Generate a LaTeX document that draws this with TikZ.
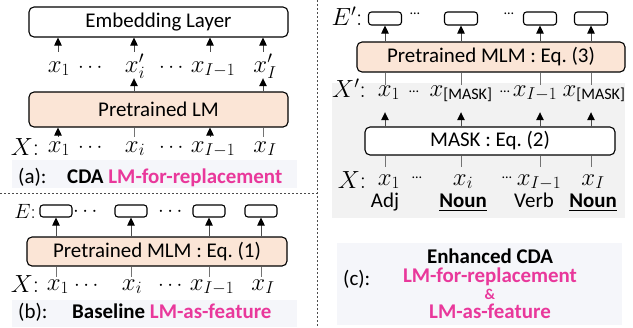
\documentclass[tikz,border=0pt]{standalone}
\usepackage{amsmath}
\usepackage{fontspec}
\setmainfont{Carlito}
\usetikzlibrary{arrows.meta}
\definecolor{peach}{RGB}{251,229,214}
\definecolor{pinkc}{RGB}{233,56,155}
\definecolor{lblbg}{RGB}{245,246,250}
\definecolor{graybg}{RGB}{242,242,242}
\begin{document}
\begin{tikzpicture}[x=1bp,y=-1bp,
  f21/.style={font=\fontsize{21}{25}\selectfont},
  box/.style={draw=black, line width=1.1bp, rounded corners=5bp, inner sep=0pt, f21},
  lmbox/.style={box, fill=peach},
  wbox/.style={box, fill=white},
  ebox/.style={draw=black, line width=1.1bp, rounded corners=3bp, inner sep=0pt, minimum width=32bp, minimum height=12bp, fill=white},
  arr/.style={draw=black!70, line width=0.9bp, -{Triangle[width=7.5bp,length=8bp,black]}},
  ln/.style={draw=black!55, line width=0.9bp},
  lab/.style={inner sep=0pt, anchor=base, font=\fontsize{23}{27}\selectfont},
  mdots/.style={inner sep=0pt, anchor=base, font=\fontsize{20}{24}\selectfont},
  big/.style={inner sep=0pt, anchor=base, font=\fontsize{25}{29}\selectfont},
  tag/.style={inner sep=0pt, anchor=base west, f21},
  ctag/.style={inner sep=0pt, anchor=base, f21},
  sdots/.style={inner sep=0pt, font=\fontsize{14}{16}\selectfont},
  sep/.style={draw=black!70, line width=0.8bp, dash pattern=on 2bp off 2bp}
]
\useasboundingbox (0,0) rectangle (633,327);

% separators
\draw[sep] (317,0) -- (317,327);
\draw[sep] (0,193) -- (317,193);

% ---------------- panel (a)
\node[wbox, minimum width=259bp, minimum height=30bp] (emb) at (158.5,22) {Embedding Layer};
\node[lmbox, minimum width=259bp, minimum height=35bp] (plm) at (158.5,109.5) {Pretrained LM};

\begin{scope}[every node/.append style={text height=20bp, text depth=6bp}]
\node[lab] (a1) at (59,72) {$x_1$};
\node[mdots] (ad1) at (92,72) {$\cdots$};
\node[lab] (ai) at (135,72) {$x_i'$};
\node[mdots] (ad2) at (173,72) {$\cdots$};
\node[lab] (aI1) at (213,72) {$x_{I-1}$};
\node[lab] (aI) at (265,72) {$x_I'$};
\end{scope}
\draw[arr] ([xshift=-1bp]a1.north) -- ([xshift=-1bp]a1.north |- emb.south);
\draw[arr] ([xshift=-1bp]ai.north) -- ([xshift=-1bp]ai.north |- emb.south);
\draw[arr] ([xshift=-3bp]aI1.north) -- ([xshift=-3bp]aI1.north |- emb.south);
\draw[arr] ([xshift=-2bp]aI.north) -- ([xshift=-2bp]aI.north |- emb.south);
\draw[arr] ([xshift=-1bp]plm.north -| ai) -- ([xshift=-1bp]ai.south);
\draw[arr] ([xshift=-2bp]plm.north -| aI) -- ([xshift=-2bp]aI.south);

\node[big] (Xa) at (25,155) {$X{:}$};
\begin{scope}[every node/.append style={text height=15bp, text depth=5bp}]
\node[lab] (b1) at (59,152) {$x_1$};
\node[mdots] (bd1) at (92,152) {$\cdots$};
\node[lab] (bi) at (135,152) {$x_i$};
\node[mdots] (bd2) at (173,152) {$\cdots$};
\node[lab] (bI1) at (213,152) {$x_{I-1}$};
\node[lab] (bI) at (265,152) {$x_I$};
\end{scope}
\draw[arr] ([xshift=-1bp]b1.north) -- ([xshift=-1bp]b1.north |- plm.south);
\draw[ln] ([xshift=-1bp]bi.north) -- ([xshift=-1bp]bi.north |- plm.south);
\draw[arr] ([xshift=-3bp]bI1.north) -- ([xshift=-3bp]bI1.north |- plm.south);
\draw[ln] ([xshift=-2bp]bI.north) -- ([xshift=-2bp]bI.north |- plm.south);

\fill[lblbg] (12,160) rectangle (297,188);
\node[tag] (la) at (18,183) {(a):};
\node[tag] (lat) at (67,183) {\textbf{CDA \textcolor{pinkc}{LM-for-replacement}}};

% ---------------- panel (b)
\node[inner sep=0pt, anchor=base, font=\fontsize{22}{26}\selectfont] (Eb) at (25,218) {$E{:}$};
\node[ebox] (e1) at (56,211) {};
\node[ebox] (e2) at (131,211) {};
\node[ebox] (e3) at (209,211) {};
\node[ebox] (e4) at (261,211) {};
\node[mdots] (ed1) at (87,216) {$\cdots$};
\node[mdots] (ed2) at (172,216) {$\cdots$};
\node[lmbox, minimum width=260bp, minimum height=29bp] (mlm1) at (157,251.5) {Pretrained MLM : Eq.~(1)};
\foreach \i in {1,...,4}{\draw[arr] (mlm1.north -| e\i) -- (e\i.south);}

\node[big] (Xb) at (25,292) {$X{:}$};
\begin{scope}[every node/.append style={text height=13bp, text depth=5bp}]
\node[lab] (c1) at (58,290) {$x_1$};
\node[mdots] (cd1) at (88,290) {$\cdots$};
\node[lab] (ci) at (132,290) {$x_i$};
\node[mdots] (cd2) at (172,290) {$\cdots$};
\node[lab] (cI1) at (212,290) {$x_{I-1}$};
\node[lab] (cI) at (263,290) {$x_I$};
\end{scope}
\draw[ln] (c1.north -| e1) -- (mlm1.south -| e1);
\draw[ln] (ci.north -| e2) -- (mlm1.south -| e2);
\draw[ln] (cI1.north -| e3) -- (mlm1.south -| e3);
\draw[ln] (cI.north -| e4) -- (mlm1.south -| e4);

\fill[lblbg] (12,300) rectangle (297,327);
\node[tag] (lb) at (18,318) {(b):};
\node[tag] (lbt) at (72,318) {\textbf{Baseline \textcolor{pinkc}{LM-as-feature}}};

% ---------------- panel (c)
\fill[graybg] (332,83) rectangle (625,218);
\node[big] (Ec) at (347,25) {$E'{:}$};
\node[ebox, minimum width=33bp, minimum height=13bp] (f1) at (385,18.5) {};
\node[ebox, minimum width=33bp, minimum height=13bp] (f2) at (461,18.5) {};
\node[ebox, minimum width=33bp, minimum height=13bp] (f3) at (540,18.5) {};
\node[ebox, minimum width=33bp, minimum height=13bp] (f4) at (591,18.5) {};
\node[sdots] (fd1) at (415,14) {…};
\node[sdots] (fd2) at (509,14) {…};
\node[lmbox, minimum width=268bp, minimum height=30bp] (mlm3) at (491,57) {Pretrained MLM : Eq.~(3)};
\foreach \i in {1,...,4}{\draw[arr] (mlm3.north -| f\i) -- (f\i.south);}

\node[big] (Xp) at (349,97) {$X'{:}$};
\begin{scope}[every node/.append style={text height=11bp, text depth=16bp}]
\node[lab] (p1) at (389,96) {$x_1$};
\node[lab] (p2) at (461,96) {$x_{\text{[MASK]}}$};
\node[lab] (p3) at (535,96) {$x_{I-1}$};
\node[lab] (p4) at (594,96) {$x_{\text{[MASK]}}$};
\end{scope}
\node[sdots] (pd1) at (414,92) {…};
\node[sdots] (pd2) at (505,92) {…};
\draw[ln] (p1.north -| f1) -- (mlm3.south -| f1);
\draw[ln] (p2.north -| f2) -- (mlm3.south -| f2);
\draw[ln] (p3.north -| f3) -- (mlm3.south -| f3);
\draw[ln] (p4.north -| f4) -- (mlm3.south -| f4);

\node[wbox, minimum width=250bp, minimum height=28bp] (mask) at (490,141) {MASK : Eq.~(2)};
\draw[arr] (mask.north -| f1) -- (p1.south -| f1);
\draw[arr] (mask.north -| f2) -- (p2.south -| f2);
\draw[arr] (mask.north -| f3) -- (p3.south -| f3);
\draw[arr] (mask.north -| f4) -- (p4.south -| f4);

\node[big] (Xc) at (352,188) {$X{:}$};
\begin{scope}[every node/.append style={text height=18bp, text depth=3bp}]
\node[lab] (q1) at (389,185) {$x_1$};
\node[lab] (q2) at (463,185) {$x_i$};
\node[lab] (q3) at (539,185) {$x_{I-1}$};
\node[lab] (q4) at (593,185) {$x_I$};
\end{scope}
\node[sdots] (qd1) at (417,178) {…};
\node[sdots] (qd2) at (507,178) {…};
\draw[ln] (q1.north -| f1) -- (mask.south -| f1);
\draw[ln] (q2.north -| f2) -- (mask.south -| f2);
\draw[ln] (q3.north -| f3) -- (mask.south -| f3);
\draw[ln] (q4.north -| f4) -- (mask.south -| f4);

\node[ctag] (t1) at (385,207) {Adj};
\node[ctag] (t2) at (463,207) {\underline{\textbf{Noun}}};
\node[ctag] (t3) at (534,207) {Verb};
\node[ctag] (t4) at (593,207) {\underline{\textbf{Noun}}};

\fill[lblbg] (337,243) rectangle (622,325);
\node[tag] (lc) at (343,285) {(c):};
\node[ctag] (lc1) at (490,263) {\textbf{Enhanced CDA}};
\node[ctag] (lc2) at (490,282) {\textbf{\textcolor{pinkc}{LM-for-replacement}}};
\node[ctag, font=\fontsize{15}{18}\selectfont] (lc3) at (490,299.5) {\textbf{\textcolor{pinkc}{\&}}};
\node[ctag] (lc4) at (490,318) {\textbf{\textcolor{pinkc}{LM-as-feature}}};
\end{tikzpicture}
\end{document}
